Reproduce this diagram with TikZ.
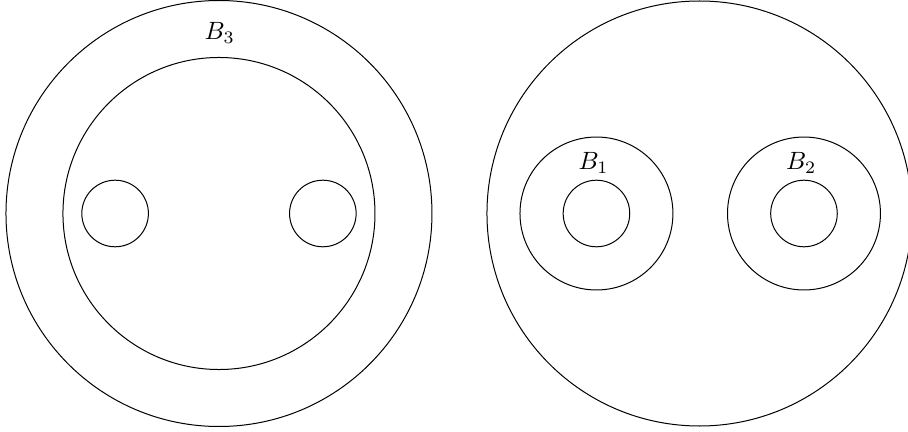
\documentclass[tikz,border=0pt]{standalone}
\begin{document}
\begin{tikzpicture}
	\useasboundingbox (-3.078,-3.071) rectangle (9.685,3.001);
	
	% --- Hình trái ---
	\draw (0,0) circle (2.994);
	\draw (0,0) circle (2.193);
	\foreach \x in {-1.46, 1.46} {
		\draw (\x,0) circle (0.468); % lỗ nhỏ
	}
	\node (lblB3) at (0.01,2.537) {$B_3$};
	
	% --- Hình phải ---
	\draw (6.754,0) circle (2.987);
	\foreach \x/\i in {5.306/1, 8.223/2} {
		\draw (\x,0) circle (1.075);
		\draw (\x,0) circle (0.468);
		\node (lblB\i) at (\x-0.04,0.71) {$B_\i$};
	}
\end{tikzpicture}
\end{document}
